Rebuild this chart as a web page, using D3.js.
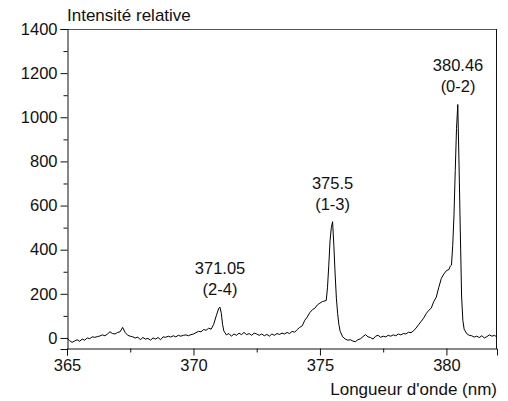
<!DOCTYPE html>
<html>
<head>
<meta charset="utf-8">
<script src="https://cdn.jsdelivr.net/npm/d3@7"></script>
<style>
  html, body { margin: 0; padding: 0; background: #fff; }
  svg { display: block; }
  text { font-family: "Liberation Sans", Arial, sans-serif; fill: #111; }
</style>
</head>
<body>
<svg id="chart" width="508" height="401"></svg>
<script>
// Wavelength (nm) and relative intensity
const wavelength = [
  365.0,365.1,365.2,365.3,365.4,365.5,365.6,365.7,365.8,365.9,
  366.0,366.1,366.2,366.3,366.4,366.5,366.6,366.7,366.8,366.9,
  367.0,367.1,367.2,367.3,367.4,367.5,367.6,367.7,367.8,367.9,
  368.0,368.1,368.2,368.3,368.4,368.5,368.6,368.7,368.8,368.9,
  369.0,369.1,369.2,369.3,369.4,369.5,369.6,369.7,369.8,369.9,
  370.0,370.1,370.2,370.3,370.4,370.5,370.6,370.7,370.8,370.9,
  371.0,371.05,371.1,371.15,371.2,371.3,371.4,371.5,371.6,371.7,371.8,371.9,
  372.0,372.1,372.2,372.3,372.4,372.5,372.6,372.7,372.8,372.9,
  373.0,373.1,373.2,373.3,373.4,373.5,373.6,373.7,373.8,373.9,
  374.0,374.1,374.2,374.3,374.4,374.5,374.6,374.7,374.8,374.9,
  375.0,375.1,375.2,375.25,375.3,375.35,375.4,375.45,375.5,375.55,375.6,375.65,375.7,375.75,375.8,375.9,
  376.0,376.1,376.2,376.3,376.4,376.5,376.6,376.7,376.8,376.9,
  377.0,377.1,377.2,377.3,377.4,377.5,377.6,377.7,377.8,377.9,
  378.0,378.1,378.2,378.3,378.4,378.5,378.6,378.7,378.8,378.9,
  379.0,379.1,379.2,379.3,379.4,379.5,379.6,379.7,379.8,379.9,
  380.0,380.1,380.15,380.2,380.25,380.3,380.35,380.4,380.45,380.5,380.55,380.6,380.65,380.7,380.8,380.9,
  381.0,381.1,381.2,381.3,381.4,381.5,381.6,381.7,381.8,381.9,382.0
];
const intensity = [
  0,-12,-20,-14,-8,-15,-5,-10,0,-3,
  5,3,6,9,14,10,18,28,20,18,
  25,28,48,25,12,8,5,0,4,-8,
  2,-5,-2,-10,0,-5,2,-8,5,3,
  8,4,10,5,12,8,12,14,10,15,
  18,24,30,28,38,35,44,40,62,100,
  135,139,112,62,32,14,20,8,18,12,22,15,
  25,15,20,12,22,18,12,18,10,16,
  8,18,12,20,16,22,18,25,20,30,
  26,38,48,55,80,95,115,128,135,150,
  158,165,168,170,230,330,440,500,527,420,290,180,110,60,30,5,
  -5,-10,-8,-14,-17,-8,-4,6,15,5,
  2,-5,8,12,3,8,5,12,8,14,
  10,18,14,20,18,26,24,32,45,60,
  75,90,110,125,135,165,185,230,270,290,
  305,310,325,330,420,560,760,950,1058,780,480,190,80,40,20,12,
  10,4,8,2,10,0,6,14,8,12,4
];
const xTicks = [365, 370, 375, 380];
const xMinorTicks = [367.5, 372.5, 377.5];
const yTicks = [0, 200, 400, 600, 800, 1000, 1200, 1400];
const yMinorTicks = [100, 300, 500, 700, 900, 1100, 1300];
const peakLabels = ["371.05", "375.5", "380.46"];
const peakBands = ["(2-4)", "(1-3)", "(0-2)"];
const peakPositions = [371.05, 375.5, 380.46];
const peakHeights = [139, 527, 1058];

const svg = d3.select("#chart");
const m = {left: 67, right: 11, top: 29, bottom: 52};
const W = 508, H = 401;
const x = d3.scaleLinear().domain([365, 382]).range([m.left, W - m.right]);
const y = d3.scaleLinear().domain([-50, 1400]).range([H - m.bottom, m.top]);

// frame (top and right)
svg.append("line").attr("x1", m.left).attr("x2", W - m.right)
  .attr("y1", m.top + 0.5).attr("y2", m.top + 0.5)
  .attr("stroke", "#555").attr("stroke-width", 1);
svg.append("line").attr("x1", W - m.right - 0.5).attr("x2", W - m.right - 0.5)
  .attr("y1", m.top).attr("y2", H - m.bottom)
  .attr("stroke", "#111").attr("stroke-width", 1);

// x axis
const gx = svg.append("g").attr("transform", `translate(0,${H - m.bottom - 0.5})`)
  .call(d3.axisBottom(x).tickValues(xTicks).tickFormat(d3.format("d")).tickSizeOuter(0).tickSize(7).tickPadding(4));
gx.append("g").call(d3.axisBottom(x).tickValues(xMinorTicks).tickFormat("").tickSize(4).tickSizeOuter(0))
  .select(".domain").remove();
// y axis
const gy = svg.append("g").attr("transform", `translate(${m.left + 0.5},0)`)
  .call(d3.axisLeft(y).tickValues(yTicks).tickFormat(d3.format("d")).tickSizeOuter(0).tickSize(7).tickPadding(3));
gy.append("g").call(d3.axisLeft(y).tickValues(yMinorTicks).tickFormat("").tickSize(4).tickSizeOuter(0))
  .select(".domain").remove();

svg.selectAll(".domain").attr("stroke", "#111");
svg.selectAll(".tick line").attr("stroke", "#111");
svg.selectAll(".tick text").attr("font-size", 16.5).attr("font-family", "Liberation Sans, Arial, sans-serif").attr("fill", "#111");

// spectrum
const pts = wavelength.map((w, i) => [w, intensity[i]]);
svg.append("path").datum(pts)
  .attr("fill", "none").attr("stroke", "#000").attr("stroke-width", 1)
  .attr("stroke-linejoin", "round")
  .attr("d", d3.line().x(d => x(d[0])).y(d => y(d[1])));

// peak labels
peakLabels.forEach((lab, i) => {
  const px = x(peakPositions[i]);
  const py = y(peakHeights[i]);
  svg.append("text").attr("x", px).attr("y", py - 33).attr("text-anchor", "middle")
    .attr("font-size", 16.5).text(lab);
  svg.append("text").attr("x", px).attr("y", py - 12).attr("text-anchor", "middle")
    .attr("font-size", 16.5).text(peakBands[i]);
});

// axis titles
svg.append("text").attr("x", m.left).attr("y", 21).attr("font-size", 17).text("Intensité relative");
svg.append("text").attr("x", W - m.right).attr("y", 395).attr("text-anchor", "end")
  .attr("font-size", 17).text("Longueur d'onde (nm)");
</script>
</body>
</html>
